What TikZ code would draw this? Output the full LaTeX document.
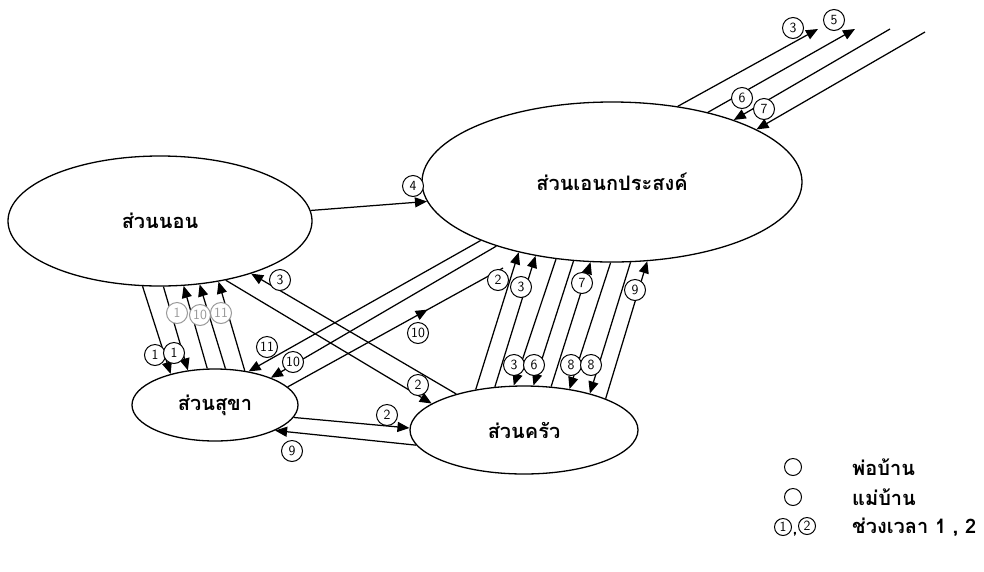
\documentclass[tikz,border=0pt]{standalone}
\usepackage{fontspec}
\newfontfamily\thai[Script=Thai]{Loma}
\usetikzlibrary{shapes.geometric,arrows.meta,decorations.markings}

\begin{document}
\begin{tikzpicture}[x=1pt,y=-1pt]
\tikzset{piece/.style={draw, ellipse, line width=1.3pt, inner sep=0pt, font=\thai\bfseries\fontsize{20}{24}\selectfont}}
\tikzset{tinum/.style={draw, circle, fill=white, line width=1pt, inner sep=0pt, minimum size=21pt, font=\sffamily\fontsize{14}{14}\selectfont}}
\tikzset{pale/.style={tinum, draw=black!40, text=black!40}}
\tikzset{fleche/.style={line width=1.25pt, -{Triangle[length=12pt,width=10pt]}}}
\tikzset{legende/.style={anchor=west, inner sep=0pt, font=\thai\bfseries\fontsize{20}{24}\selectfont}}
\useasboundingbox (0,0) rectangle (984,571);
\node[piece, minimum width=304pt, minimum height=130pt] (Nap) at (160,221) {ส่วนนอน};
\node[piece, minimum width=380pt, minimum height=160pt] (Multi) at (612,182) {ส่วนเอนกประสงค์};
\node[piece, minimum width=166pt, minimum height=72pt] (Toilet) at (215,405) {ส่วนสุขา};
\node[piece, minimum width=228pt, minimum height=88pt] (Kitchen) at (524,430) {ส่วนครัว};
\coordinate (FinDix) at (503,268);
\coordinate (Out3) at (818,29);
\coordinate (Out5) at (855,29);
\coordinate (Out6) at (890,29);
\coordinate (Out7) at (925,32);
\draw[fleche] (Nap.4) -- (Multi.186);
\draw[fleche] (Nap.255) -- (Toilet.145);
\draw[fleche] (Nap.273) -- (Toilet.128);
\draw[fleche] (Toilet.102) -- (Nap.290);
\draw[fleche] (Toilet.74) -- (Nap.302);
\draw[fleche] (Toilet.49) -- (Nap.314);
\draw[fleche] (Kitchen.152) -- (Nap.330);
\draw[fleche] (Nap.318) -- (Kitchen.164);
\draw[fleche] (Toilet.351) -- (Kitchen.179);
\draw[fleche] (Kitchen.188) -- (Toilet.337);
\draw[fleche] (Multi.204) -- (Toilet.45);
\draw[fleche] (Multi.209) -- (Toilet.26);
\draw[line width=1.25pt, postaction={decorate}, decoration={markings,
  mark=at position 0.65 with {\arrow{Triangle[length=12pt,width=10pt]}}}] (Toilet.14) -- (FinDix);
\draw[fleche] (Kitchen.140) -- (Multi.217);
\draw[fleche] (Kitchen.124) -- (Multi.224);
\draw[fleche] (Multi.234) -- (Kitchen.103);
\draw[fleche] (Multi.244) -- (Kitchen.78);
\draw[fleche] (Kitchen.58) -- (Multi.255);
\draw[fleche] (Multi.269) -- (Kitchen.42);
\draw[fleche] (Multi.283) -- (Kitchen.29);
\draw[fleche] (Kitchen.21) -- (Multi.294);
\draw[fleche] (Multi.49) -- (Out3);
\draw[fleche] (Multi.36) -- (Out5);
\draw[fleche] (Out6) -- (Multi.27);
\draw[fleche] (Out7) -- (Multi.20);
% numeros
\node[tinum] (N4) at (413,186) {4};
\node[tinum] (N1a) at (155,355) {1};
\node[tinum] (N1b) at (174,353) {1};
\node[pale] (N1c) at (177,313) {1};
\node[pale] (N10a) at (200,315) {10};
\node[pale] (N11a) at (221,313) {11};
\node[tinum] (N3a) at (280,280) {3};
\node[tinum] (N2a) at (418,385) {2};
\node[tinum] (N2b) at (387,415) {2};
\node[tinum] (N9a) at (292,451) {9};
\node[tinum] (N11b) at (267,347) {11};
\node[tinum] (N10b) at (293,362) {10};
\node[tinum] (N10c) at (418,333) {10};
\node[tinum] (N2c) at (498,280) {2};
\node[tinum] (N3b) at (521,287) {3};
\node[tinum] (N7a) at (582,283) {7};
\node[tinum] (N9b) at (635,290) {9};
\node[tinum] (N3c) at (514,365) {3};
\node[tinum] (N6a) at (534,365) {6};
\node[tinum] (N8a) at (571,365) {8};
\node[tinum] (N8b) at (591,365) {8};
\node[tinum] (N3d) at (793,28) {3};
\node[tinum] (N5) at (834,20) {5};
\node[tinum] (N6b) at (742,98) {6};
\node[tinum] (N7b) at (764,109) {7};
% legende
\node[tinum, minimum size=17pt] (LegPere) at (793,467) {};
\node[tinum, minimum size=17pt] (LegMere) at (793,497) {};
\node[tinum, minimum size=17pt] (LegUn) at (783,527) {1};
\node[tinum, minimum size=17pt] (LegDeux) at (807,526) {2};
\node[inner sep=0pt, font=\sffamily\bfseries\fontsize{16}{16}\selectfont] (LegVirg) at (795,534) {,};
\node[legende] (TxtPere) at (852,467) {พ่อบ้าน};
\node[legende] (TxtMere) at (852,497) {แม่บ้าน};
\node[legende] (TxtTemps) at (852,527) {ช่วงเวลา 1 , 2};
\end{tikzpicture}
\end{document}
